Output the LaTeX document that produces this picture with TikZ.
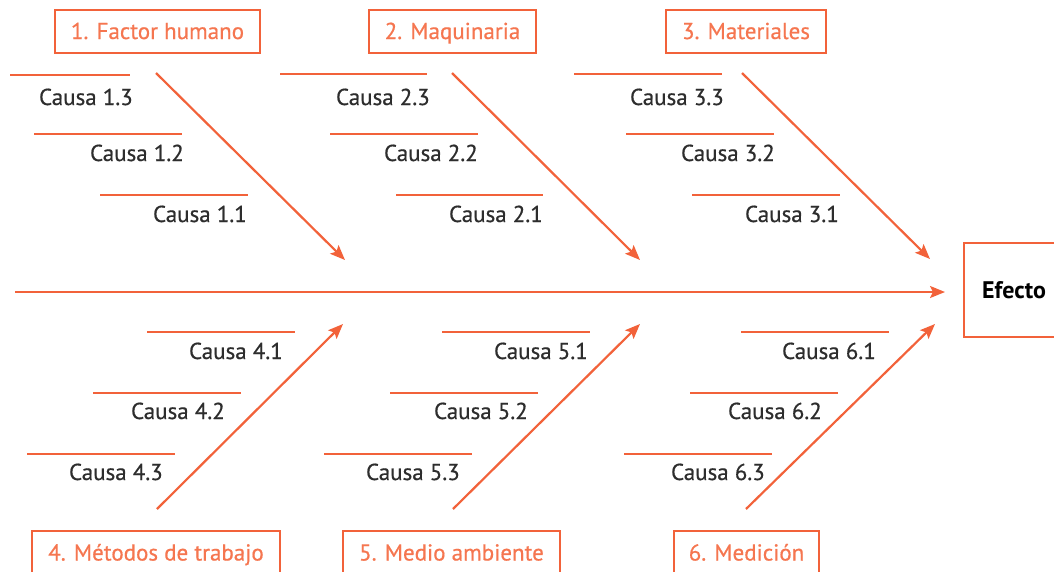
\documentclass[tikz,border=0pt]{standalone}
\usepackage{fontspec}
\setmainfont{PT Sans}
\newfontfamily\medfont{PT Sans}[FakeBold=0.6]
\usetikzlibrary{arrows.meta}
\definecolor{fish}{RGB}{242,98,58}
\definecolor{hdrtxt}{RGB}{245,118,80}
\definecolor{txt}{RGB}{45,45,45}
\begin{document}
\begin{tikzpicture}[x=1pt,y=-1pt,
  bone/.style={draw=fish,line width=2.2pt,-{Stealth[length=15pt,width=12pt,inset=3pt]}},
  rib/.style={draw=fish,line width=2.6pt},
  lbl/.style={anchor=east,text=txt,inner sep=0pt,text height=16pt,text depth=0pt,font=\medfont\fontsize{23}{26}\selectfont},
  hdr/.style={draw=fish,line width=2pt,text=hdrtxt,minimum height=43pt,inner sep=0pt,text height=16pt,text depth=0pt,font=\medfont\fontsize{23}{26}\selectfont},
  effbox/.style={draw=fish,line width=2pt,minimum width=100pt,minimum height=94pt,inner sep=0pt,font=\bfseries\fontsize{24}{27}\selectfont,text=black}
]
\useasboundingbox (0,0) rectangle (1054,571);
\clip (0,0) rectangle (1054,571);

% header boxes
\node[hdr,minimum width=205pt] (h1) at (157.5,31) {1. Factor humano};
\node[hdr,minimum width=167pt] (h2) at (452.5,31) {2. Maquinaria};
\node[hdr,minimum width=160pt] (h3) at (746,31) {3. Materiales};
\node[hdr,minimum width=248pt] (h4) at (156,552.5) {4. Métodos de trabajo};
\node[hdr,minimum width=217pt] (h5) at (451.5,552.5) {5. Medio ambiente};
\node[hdr,minimum width=145pt] (h6) at (746.5,552.5) {6. Medición};

% effect
\node[effbox] (eff) at (1014,290) {Efecto};

% spine
\coordinate (s0) at (15,292);
\coordinate (s1) at (945,292);
\draw[bone] (s0) -- (s1);

% bones
\coordinate (b1s) at (156,73);  \coordinate (b1e) at (345,260);
\coordinate (b2s) at (452,73);  \coordinate (b2e) at (640,260);
\coordinate (b3s) at (742,73);  \coordinate (b3e) at (930,259);
\coordinate (b4s) at (157,509); \coordinate (b4e) at (343,324);
\coordinate (b5s) at (453,509); \coordinate (b5e) at (640,324);
\coordinate (b6s) at (746,509); \coordinate (b6e) at (935,324);
\foreach \i in {1,...,6} { \draw[bone] (b\i s) -- (b\i e); }

% ribs and causes
\foreach \n/\t/\a/\b/\y/\tx/\ty in {
  13/1.3/10/130/75/133/97,
  12/1.2/34/182/134/184/153,
  11/1.1/100/248/195/247/214,
  23/2.3/280/427/74/430/97,
  22/2.2/330/478/134/478/153,
  21/2.1/396/543/195/543/214,
  33/3.3/574/722/74/724/97,
  32/3.2/626/774/134/775/153,
  31/3.1/692/840/195/839/214,
  41/4.1/147/295/332/283/351,
  42/4.2/93/241/393/225/411,
  43/4.3/27/175/454/163/472,
  51/5.1/442/590/332/588/351,
  52/5.2/390/538/393/528/411,
  53/5.3/324/472/454/460/472,
  61/6.1/741/889/332/876/351,
  62/6.2/690/838/393/822/411,
  63/6.3/624/772/454/765/472}{
  \coordinate (r\n a) at (\a,\y);
  \coordinate (r\n b) at (\b,\y);
  \draw[rib] (r\n a) -- (r\n b);
  \node[lbl] (c\n) at (\tx,\ty) {Causa \t};
}
\end{tikzpicture}
\end{document}
